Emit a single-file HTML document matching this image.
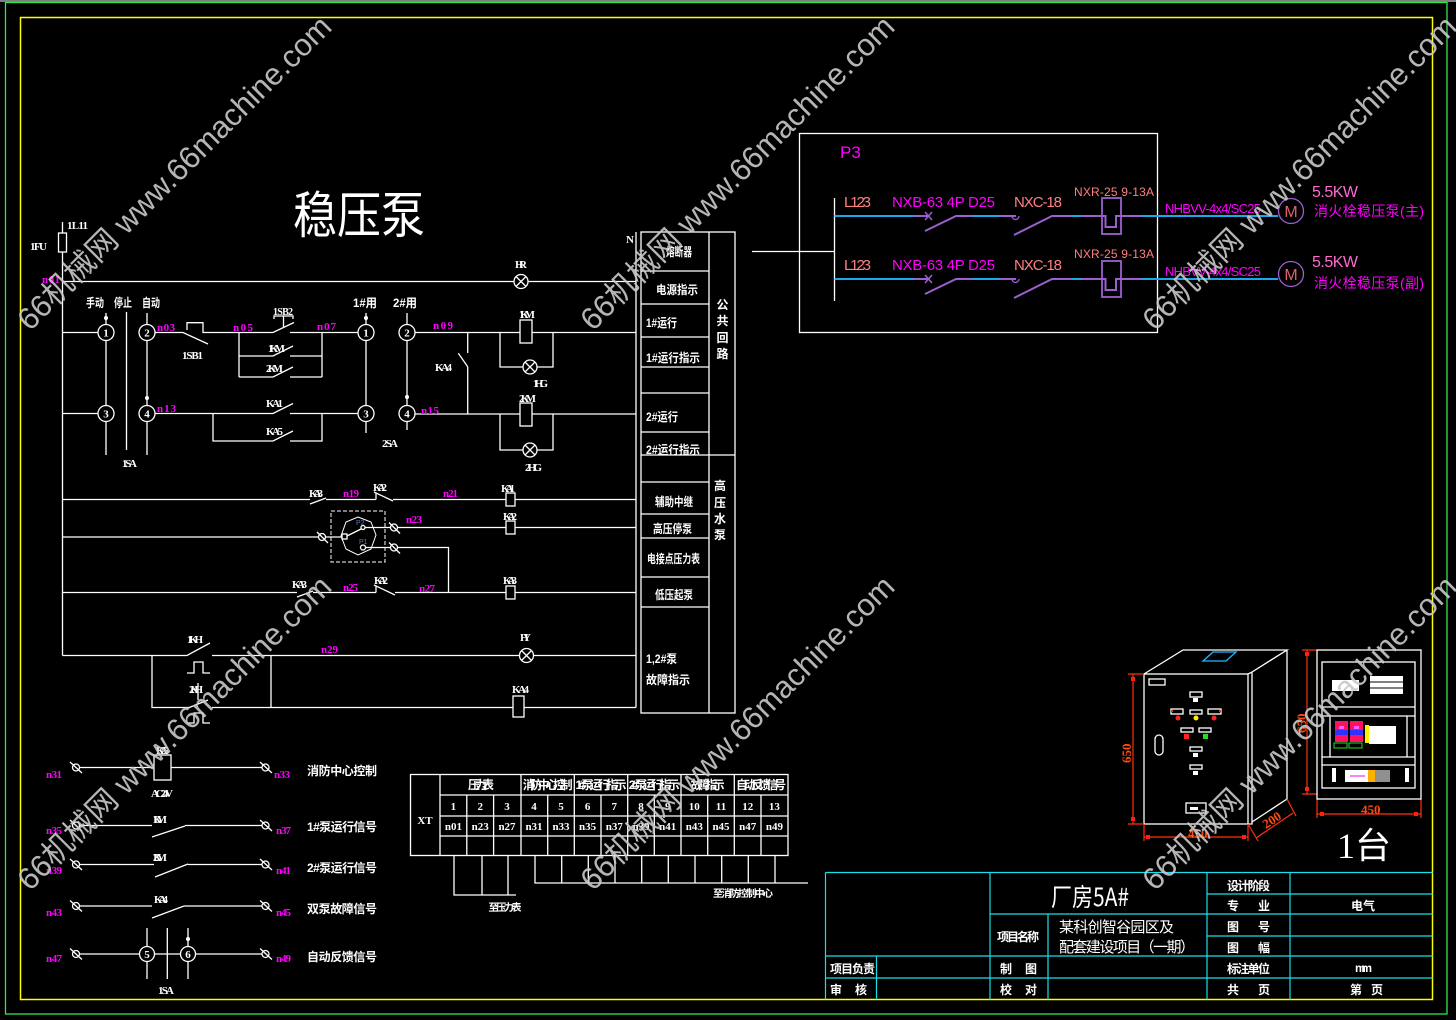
<!DOCTYPE html>
<html><head><meta charset="utf-8"><style>
html,body{margin:0;padding:0;background:#000;}
svg{display:block}
.l{stroke:#fff;stroke-width:1.3;fill:none}
.lf{stroke:#fff;stroke-width:1.3;fill:#000}
.t{fill:#fff;font-family:"Liberation Serif","Noto Sans CJK SC",serif;font-weight:bold;font-size:11px}
.c{fill:#fff;font-family:"Liberation Sans","Noto Sans CJK SC",sans-serif;font-weight:bold;font-size:12px}
.m{fill:#ff00ff;font-family:"Liberation Serif",serif;font-weight:bold;font-size:11px}
.p{font-family:"Liberation Sans","Noto Sans CJK SC",sans-serif;font-size:15px}
.d{fill:#ff4a10;font-family:"Liberation Serif",serif;font-weight:bold;font-size:13px}
.cy{stroke:#1aa8ea;stroke-width:2;fill:none}
.pu{stroke:#9b5fd0;stroke-width:2;fill:none}
.tb{stroke:#18e0e8;stroke-width:1.2;fill:none}
.r{stroke:#ff3010;stroke-width:1.2;fill:none}
</style></head><body>
<svg width="1456" height="1020" viewBox="0 0 1456 1020" xmlns="http://www.w3.org/2000/svg">
<rect width="1456" height="1020" fill="#000"/>
<rect x="0" y="0" width="1456" height="2" fill="#808080"/>
<rect x="5.5" y="2.5" width="1441.5" height="1011.5" fill="none" stroke="#2ee84c" stroke-width="1.3"/>
<rect x="20.5" y="17.5" width="1412" height="982" fill="none" stroke="#ffff00" stroke-width="1.5"/>

<!-- Title -->
<text x="293" y="233" font-size="50" textLength="132" lengthAdjust="spacingAndGlyphs" fill="#fff" font-family="'Noto Sans CJK SC',sans-serif">稳压泵</text>

<!-- left bus & fuse -->
<g class="l">
<path d="M62.5,222 V233 M62.5,252 V655.5"/>
<rect x="58.5" y="233" width="8" height="19"/>
<path d="M62.5,281.5 H514 M528,281.5 H636"/>
<path d="M636,232 V707.5"/>
<path d="M62.5,332.5 H98 M62.5,413.5 H98"/>
<path d="M106,313 V324.5 M106,340.5 V405.5 M106,421.5 V455"/>
<path d="M147,313 V324.5 M147,340.5 V405.5 M147,421.5 V455"/>
<path d="M126.5,312 V450"/>
<path d="M155,332.5 H183 L208,344"/>
<path d="M187,330 V322.7 H203 V332.5 H239"/>
<path d="M239,332.5 V377"/>
<path d="M239,332.5 H273 L294,322.5 M290,332.5 H358"/>
<path d="M274,319 V316 H293 V319 M283.5,316 V327"/>
<path d="M239,356 H273 L293,346 M290,356 H322"/>
<path d="M239,377 H273 L293,367 M290,377 H322"/>
<path d="M322,332.5 V377"/>
<path d="M155,413.5 H273 L293,403.5 M290,413.5 H358"/>
<path d="M213,413.5 V441 H273 L293,431 M290,441 H322 V413.5"/>
<path d="M366,313 V324.5 M366,340.5 V405.5 M366,421.5 V433"/>
<path d="M407,313 V324.5 M407,340.5 V405.5 M407,421.5 V430"/>
<path d="M415,332.5 H636"/>
<path d="M415,414 H636"/>
<path d="M467.7,332.5 V353 M458.3,353.3 L467.7,366.7 M467.7,366.7 V414"/>
<path d="M500,332.5 V367 H523 M537,367 H553 V332.5"/>
<path d="M500,414 V450 H523 M537,450 H553 V414"/>
</g>
<rect x="520" y="320" width="12" height="23" class="lf"/>
<rect x="520" y="403" width="12" height="23" class="lf"/>
<g class="lf">
<circle cx="106" cy="332.5" r="8"/><circle cx="147" cy="332.5" r="8"/>
<circle cx="106" cy="413.5" r="8"/><circle cx="147" cy="413.5" r="8"/>
<circle cx="366" cy="332.5" r="8"/><circle cx="407" cy="332.5" r="8"/>
<circle cx="366" cy="413.5" r="8"/><circle cx="407" cy="413.5" r="8"/>
</g>
<g fill="#fff"><circle cx="106" cy="318" r="2"/><circle cx="147" cy="398" r="2"/><circle cx="366" cy="318" r="2"/><circle cx="407" cy="397" r="2"/></g>
<g class="t" font-size="10" text-anchor="middle">
<text x="106" y="336.5">1</text><text x="147" y="336.5">2</text><text x="106" y="417.5">3</text><text x="147" y="417.5">4</text>
<text x="366" y="336.5">1</text><text x="407" y="336.5">2</text><text x="366" y="417.5">3</text><text x="407" y="417.5">4</text>
</g>
<g class="lf">
<circle cx="521" cy="281.5" r="7"/><circle cx="530" cy="367" r="7"/><circle cx="530" cy="450" r="7"/><circle cx="526.5" cy="655.5" r="7"/>
</g>
<g class="l">
<path d="M516,276.5 L526,286.5 M526,276.5 L516,286.5"/>
<path d="M525,362 L535,372 M535,362 L525,372"/>
<path d="M525,445 L535,455 M535,445 L525,455"/>
<path d="M521.5,650.5 L531.5,660.5 M531.5,650.5 L521.5,660.5"/>
</g>

<!-- middle rows -->
<g class="l">
<path d="M62.5,499.5 H310 M310,504 L326,498 M326,499.5 H376 M376,493 V499.5 M374,492 L393,501 M393,499.5 H636"/>
<path d="M364,527.5 H636"/>
<path d="M62.5,537 H342"/>
<path d="M345,537 L363,528 M363,547.5 H448.5 V592.5"/>
<path d="M62.5,592.5 H297 M297,597 L313,591 M313,592.5 H376 M376,586 V592.5 M374,585 L395,595 M395,592.5 H636"/>
<path d="M62.5,655.5 H187 L210,643 M212,655.5 H519 M534,655.5 H636"/>
<path d="M187,673 H194 V662 H203 V673 H210"/>
<path d="M152,655.5 V707.5 H190 M212,707.5 H636"/>
<path d="M198,683 V700 M188,708 L208,700"/>
<path d="M187,723 H194 V713 H203 V723 H210"/>
<path d="M271,655.5 V707.5"/>
</g>
<rect x="331" y="511" width="54" height="51" fill="none" stroke="#fff" stroke-width="1" stroke-dasharray="4,2"/>
<polygon points="358,517 371,522 376,535 371,549 358,555 346,549 341,536 346,522" fill="none" stroke="#fff" stroke-width="1"/>
<rect x="342" y="534" width="5" height="5" class="lf"/>
<circle cx="363" cy="547.5" r="2.5" class="lf"/>
<circle cx="363" cy="527.5" r="2" class="lf"/>
<text x="356" y="525" font-size="7" fill="#5a7ab0" font-family="Liberation Sans,sans-serif">P2</text>
<text x="359" y="544" font-size="7" fill="#5a7ab0" font-family="Liberation Sans,sans-serif">P1</text>
<g class="l">
<circle cx="322" cy="537" r="3.5" fill="#000"/><path d="M317,532 L328,543"/>
<circle cx="394" cy="527.5" r="3.5" fill="#000"/><path d="M389,522.5 L400,533.5"/>
<circle cx="394" cy="547.5" r="3.5" fill="#000"/><path d="M389,542.5 L400,553.5"/>
</g>
<rect x="506" y="493" width="9" height="13" class="lf"/>
<rect x="506" y="521" width="9" height="13" class="lf"/>
<rect x="506" y="586" width="9" height="13" class="lf"/>
<rect x="513" y="696" width="11" height="21" class="lf"/>

<!-- right table -->
<g class="l">
<rect x="641" y="232" width="94" height="481"/>
<path d="M709,232 V713"/>
<path d="M641,271 H709 M641,304 H709 M641,337 H709 M641,367 H709 M641,393 H709 M641,432 H709 M641,455 H735 M641,482 H709 M641,514 H709 M641,538 H709 M641,577 H709 M641,607 H709"/>
<path d="M752,251.5 H834.5"/>
</g>
<g class="c">
<text x="666" y="256" textLength="26" lengthAdjust="spacingAndGlyphs">熔断器</text>
<text x="656" y="294" textLength="42" lengthAdjust="spacingAndGlyphs">电源指示</text>
<text x="646" y="327" textLength="31" lengthAdjust="spacingAndGlyphs">1#运行</text>
<text x="646" y="362" textLength="54" lengthAdjust="spacingAndGlyphs">1#运行指示</text>
<text x="646" y="421" textLength="32" lengthAdjust="spacingAndGlyphs">2#运行</text>
<text x="646" y="454" textLength="54" lengthAdjust="spacingAndGlyphs">2#运行指示</text>
<text x="655" y="506" textLength="38" lengthAdjust="spacingAndGlyphs">辅助中继</text>
<text x="653" y="533" textLength="39" lengthAdjust="spacingAndGlyphs">高压停泵</text>
<text x="647" y="563" textLength="53" lengthAdjust="spacingAndGlyphs">电接点压力表</text>
<text x="655" y="599" textLength="38" lengthAdjust="spacingAndGlyphs">低压起泵</text>
<text x="646" y="663" textLength="31" lengthAdjust="spacingAndGlyphs">1,2#泵</text>
<text x="646" y="684" textLength="44" lengthAdjust="spacingAndGlyphs">故障指示</text>
</g>
<g class="c" font-size="13" text-anchor="middle">
<text x="722.5" y="309">公</text><text x="722.5" y="325">共</text><text x="722.5" y="342">回</text><text x="722.5" y="358">路</text>
<text x="720" y="490">高</text><text x="720" y="507">压</text><text x="720" y="523">水</text><text x="720" y="539">泵</text>
</g>

<g class="t" lengthAdjust="spacingAndGlyphs">
<text x="30" y="250" textLength="17">1FU</text>
<text x="67" y="229" textLength="21">1L11</text>
<text x="626" y="243">N</text>
<text x="515" y="268" textLength="12">HR</text>
<text x="273" y="315" textLength="20" font-size="10">1SB2</text>
<text x="182" y="359" textLength="21">1SB1</text>
<text x="268" y="352" textLength="17">1KM</text>
<text x="266" y="372" textLength="17">2KM</text>
<text x="266" y="407" textLength="17">KA1</text>
<text x="266" y="435" textLength="17">KA5</text>
<text x="122" y="467" textLength="15">1SA</text>
<text x="382" y="447" textLength="16">2SA</text>
<text x="435" y="371" textLength="17">KA4</text>
<text x="519" y="318" textLength="16">1KM</text>
<text x="533" y="387" textLength="15">1HG</text>
<text x="519" y="402" textLength="17">2KM</text>
<text x="525" y="471" textLength="17">2HG</text>
<text x="309" y="497" textLength="14">KA3</text>
<text x="373" y="491" textLength="14">KA2</text>
<text x="501" y="492" textLength="14">KA1</text>
<text x="503" y="520" textLength="14">KA2</text>
<text x="292" y="588" textLength="15">KA3</text>
<text x="374" y="584" textLength="14">KA2</text>
<text x="503" y="584" textLength="14">KA3</text>
<text x="187" y="643" textLength="16">1KH</text>
<text x="520" y="641" textLength="11">HY</text>
<text x="189" y="693" textLength="14">2KH</text>
<text x="512" y="693" textLength="17">KA4</text>
</g>
<g class="c">
<text x="86" y="307" textLength="18" lengthAdjust="spacingAndGlyphs">手动</text>
<text x="114" y="307" textLength="18" lengthAdjust="spacingAndGlyphs">停止</text>
<text x="142" y="307" textLength="18" lengthAdjust="spacingAndGlyphs">自动</text>
<text x="353" y="307" textLength="24" lengthAdjust="spacingAndGlyphs">1#用</text>
<text x="393" y="307" textLength="24" lengthAdjust="spacingAndGlyphs">2#用</text>
</g>
<g class="m" lengthAdjust="spacingAndGlyphs">
<text x="42" y="283" textLength="18">n01</text>
<text x="157" y="331" textLength="18">n03</text>
<text x="233" y="331" textLength="20">n05</text>
<text x="317" y="330" textLength="19">n07</text>
<text x="157" y="412" textLength="19">n13</text>
<text x="421" y="414" textLength="18">n15</text>
<text x="433" y="329" textLength="20">n09</text>
<text x="343" y="497" textLength="16">n19</text>
<text x="443" y="497" textLength="15">n21</text>
<text x="406" y="523" textLength="16">n23</text>
<text x="343" y="591" textLength="15">n25</text>
<text x="419" y="592" textLength="16">n27</text>
<text x="321" y="653" textLength="17">n29</text>
</g>

<!-- P3 -->
<rect x="799.5" y="133.5" width="358" height="199" fill="none" stroke="#fff" stroke-width="1.3"/>
<path d="M834.5,198 V301" class="l"/>
<text x="840" y="158" fill="#ff00ff" font-family="Liberation Sans,sans-serif" font-size="17">P3</text>
<g id="r1">
<path class="cy" d="M834.5,216 H914 M972.5,216 H1000 M1072,216 H1082 M1141,216 H1278"/>
<path class="pu" d="M914,216 H929 M925,231 L956,216 H972.5 M1000,216 H1016 M1014,235 L1052,216 H1072 M1082,216 H1105.5 V227 H1116 V216 H1141"/>
<path d="M925,212 L932,220 M932,212 L925,220" stroke="#9b5fd0" stroke-width="1.5"/>
<path d="M1012,216 A3.5,3.5 0 0 0 1019,216" stroke="#9b5fd0" stroke-width="1.3" fill="none"/>
<rect x="1102" y="198" width="19" height="36" fill="none" stroke="#9b5fd0" stroke-width="1.8"/>
<circle cx="1291" cy="211" r="12.5" fill="none" stroke="#9b5fd0" stroke-width="1.3"/>
<text x="1291" y="217" text-anchor="middle" fill="#e06070" font-family="Liberation Sans,sans-serif" font-size="16">M</text>
</g>
<use href="#r1" transform="translate(0,63)"/>
<g class="p" lengthAdjust="spacingAndGlyphs">
<text x="844" y="207" fill="#ff8080" textLength="27">L123</text>
<text x="892" y="207" fill="#ff00ff" textLength="103">NXB-63 4P D25</text>
<text x="1014" y="207" fill="#ff8080" textLength="48">NXC-18</text>
<text x="1074" y="196" fill="#ff8080" textLength="80" font-size="12">NXR-25 9-13A</text>
<text x="1165" y="213" fill="#ff00ff" textLength="96" font-size="13">NHBVV-4x4/SC25</text>
<text x="1312" y="197" fill="#ff6ad0" textLength="46" font-size="16">5.5KW</text>
<text x="1314" y="216" fill="#ff00ff" textLength="110" font-size="14">消火栓稳压泵(主)</text>
<text x="844" y="270" fill="#ff8080" textLength="27">L123</text>
<text x="892" y="270" fill="#ff00ff" textLength="103">NXB-63 4P D25</text>
<text x="1014" y="270" fill="#ff8080" textLength="48">NXC-18</text>
<text x="1074" y="258" fill="#ff8080" textLength="80" font-size="12">NXR-25 9-13A</text>
<text x="1165" y="276" fill="#ff00ff" textLength="96" font-size="13">NHBVV-4x4/SC25</text>
<text x="1312" y="267" fill="#ff6ad0" textLength="46" font-size="16">5.5KW</text>
<text x="1314" y="288" fill="#ff00ff" textLength="110" font-size="14">消火栓稳压泵(副)</text>
</g>

<!-- bottom-left signals -->
<g class="l">
<path d="M80,767.5 H154 M171,767.5 H262"/>
<path d="M80,825.5 H152 M152,837 L185,826 M185,825.5 H262"/>
<path d="M80,864.5 H154 M155,877 L188,864 M188,864.5 H262"/>
<path d="M80,906 H152 M152,918 L184,906 M184,906 H262"/>
<path d="M80,954 H139.5 M155,954 H180.5 M196,954 H262"/>
<path d="M147,928 V946.5 M147,961.5 V979 M167.3,928 V979 M188,928 V946.5 M188,961.5 V979"/>
</g>
<rect x="154" y="755" width="17" height="25" class="lf"/>
<g class="lf"><circle cx="147" cy="954" r="7.5"/><circle cx="188" cy="954" r="7.5"/></g>
<circle cx="188" cy="939" r="2" fill="#fff"/>
<g class="t" font-size="10" text-anchor="middle"><text x="147" y="958">5</text><text x="188" y="958">6</text></g>
<g class="l">
<circle cx="76" cy="767.5" r="3.5"/><path d="M70,762 L82,773"/>
<circle cx="76" cy="825.5" r="3.5"/><path d="M70,820 L82,831"/>
<circle cx="76" cy="864.5" r="3.5"/><path d="M70,859 L82,870"/>
<circle cx="76" cy="906" r="3.5"/><path d="M70,900.5 L82,911.5"/>
<circle cx="76" cy="954" r="3.5"/><path d="M70,948.5 L82,959.5"/>
<circle cx="265.5" cy="767.5" r="3.5"/><path d="M260,762 L272,773"/>
<circle cx="265.5" cy="825.5" r="3.5"/><path d="M260,820 L272,831"/>
<circle cx="265.5" cy="864.5" r="3.5"/><path d="M260,859 L272,870"/>
<circle cx="265.5" cy="906" r="3.5"/><path d="M260,900.5 L272,911.5"/>
<circle cx="265.5" cy="954" r="3.5"/><path d="M260,948.5 L272,959.5"/>
</g>
<g class="m" lengthAdjust="spacingAndGlyphs">
<text x="46" y="778" textLength="16">n31</text><text x="274" y="778" textLength="16">n33</text>
<text x="46" y="834" textLength="16">n35</text><text x="276" y="834" textLength="15">n37</text>
<text x="46" y="874" textLength="16">n39</text><text x="276" y="874" textLength="15">n41</text>
<text x="46" y="916" textLength="16">n43</text><text x="276" y="916" textLength="15">n45</text>
<text x="46" y="962" textLength="16">n47</text><text x="276" y="962" textLength="15">n49</text>
</g>
<g class="t" font-size="10" lengthAdjust="spacingAndGlyphs">
<text x="156" y="754" textLength="13">KA5</text>
<text x="151" y="797" textLength="22">AC24V</text>
<text x="153" y="823" textLength="14">1KM</text>
<text x="153" y="861" textLength="14">2KM</text>
<text x="154" y="903" textLength="14">KA4</text>
<text x="158" y="994" textLength="16">1SA</text>
</g>
<g class="c" font-size="14" lengthAdjust="spacingAndGlyphs">
<text x="307" y="775" textLength="70">消防中心控制</text>
<text x="307" y="831" textLength="70">1#泵运行信号</text>
<text x="307" y="872" textLength="70">2#泵运行信号</text>
<text x="307" y="913" textLength="70">双泵故障信号</text>
<text x="307" y="961" textLength="70">自动反馈信号</text>
</g>

<!-- XT table -->
<g class="l" stroke-width="1.1">
<rect x="410.5" y="774.5" width="377.5" height="81"/>
<path d="M440,774.5 V855.5 M440,795 H788 M440,816 H788 M440,836 H788"/>
<path d="M521,774.5 V855.5 M574.3,774.5 V855.5 M627.7,774.5 V855.5 M681,774.5 V855.5 M734.3,774.5 V855.5"/>
<path d="M466.8,795 V855.5 M493.6,795 V855.5 M547.7,795 V855.5 M601,795 V855.5 M654.3,795 V855.5 M707.7,795 V855.5 M761,795 V855.5"/>
<path d="M454,855.5 V895 H516 M482,855.5 V895 M508,855.5 V895"/>
<path d="M535,855.5 V883 H808 M561.7,855.5 V883 M588.3,855.5 V883 M615,855.5 V883 M641.7,855.5 V883 M668.3,855.5 V883 M695,855.5 V883 M721.7,855.5 V883 M748.3,855.5 V883 M775,855.5 V883"/>
</g>
<text x="425" y="824" text-anchor="middle" class="t" font-size="20">XT</text>
<g class="c" font-size="9" text-anchor="middle" lengthAdjust="spacingAndGlyphs">
<text x="481" y="789" textLength="26">压力表</text>
<text x="547.7" y="789" textLength="50">消防中心控制</text>
<text x="601" y="789" textLength="51">1#泵运行指示</text>
<text x="654.3" y="789" textLength="51">2#泵运行指示</text>
<text x="707.7" y="789" textLength="34">故障指示</text>
<text x="761" y="789" textLength="50">自动反馈信号</text>
<text x="505" y="911" textLength="33" font-size="10">至压力表</text>
<text x="743" y="897" textLength="60" font-size="10">至消防控制中心</text>
</g>
<g class="t" font-size="10" text-anchor="middle">
<text x="453.4" y="810">1</text><text x="480.2" y="810">2</text><text x="507" y="810">3</text><text x="534" y="810">4</text><text x="561" y="810">5</text><text x="587.6" y="810">6</text><text x="614.3" y="810">7</text><text x="641" y="810">8</text><text x="667.7" y="810">9</text><text x="694.3" y="810">10</text><text x="721" y="810">11</text><text x="747.7" y="810">12</text><text x="774.4" y="810">13</text>
<text x="453.4" y="830">n01</text><text x="480.2" y="830">n23</text><text x="507" y="830">n27</text><text x="534" y="830">n31</text><text x="561" y="830">n33</text><text x="587.6" y="830">n35</text><text x="614.3" y="830">n37</text><text x="641" y="830">n39</text><text x="667.7" y="830">n41</text><text x="694.3" y="830">n43</text><text x="721" y="830">n45</text><text x="747.7" y="830">n47</text><text x="774.4" y="830">n49</text>
</g>

<!-- Title block -->
<g class="tb">
<path d="M825.5,872.5 H1432.5 M825.5,872.5 V999.5"/>
<path d="M990,872.5 V999.5 M1207,872.5 V999.5 M1290,872.5 V999.5 M1048,914 V999.5 M876.5,956 V999.5"/>
<path d="M1207,894 H1432.5 M990,914 H1432.5 M1207,936 H1432.5 M825.5,956 H1432.5 M825.5,978 H1432.5"/>
</g>
<text x="1090" y="906" text-anchor="middle" fill="#fff" font-family="'Noto Sans CJK SC',sans-serif" font-size="25" textLength="78" lengthAdjust="spacingAndGlyphs">厂房5A#</text>
<g class="c" font-size="12" lengthAdjust="spacingAndGlyphs">
<text x="997" y="941" textLength="42">项目名称</text>
<text x="1059" y="932" textLength="115" font-size="15" font-weight="normal">某科创智谷园区及</text>
<text x="1059" y="952" textLength="136" font-size="15" font-weight="normal">配套建设项目（一期）</text>
<text x="1227" y="890" textLength="43">设计阶段</text>
<text x="1227" y="910" textLength="43">专　业</text>
<text x="1351" y="910" textLength="24">电　气</text>
<text x="1227" y="931" textLength="43">图　号</text>
<text x="1227" y="952" textLength="43">图　幅</text>
<text x="830" y="973" textLength="45">项目负责</text>
<text x="1000" y="973" textLength="37">制　图</text>
<text x="1227" y="973" textLength="43">标注单位</text>
<text x="1355" y="972" textLength="17">mm</text>
<text x="830" y="994" textLength="37">审　核</text>
<text x="1000" y="994" textLength="37">校　对</text>
<text x="1227" y="994" textLength="43">共　页</text>
<text x="1350" y="994" textLength="33">第　页</text>
</g>

<!-- Cabinet 3D -->
<g class="l" stroke-width="1.1">
<rect x="1144" y="674" width="104" height="150"/>
<path d="M1144,674 L1183,650 H1287 L1252,672 M1248,674 L1252,672 V824 H1248 M1287,650 V799 L1252,822"/>
<rect x="1149" y="679" width="16" height="6"/>
<rect x="1190" y="692" width="12" height="5"/>
<rect x="1171" y="709" width="12" height="5"/><rect x="1190" y="710" width="12" height="4"/><rect x="1208" y="709" width="13" height="5"/>
<rect x="1181" y="728" width="12" height="4"/><rect x="1199" y="728" width="12" height="4"/>
<rect x="1155" y="735" width="8" height="20" rx="4"/>
<rect x="1190" y="747" width="12" height="4"/><rect x="1190" y="765" width="12" height="4"/>
<rect x="1186" y="803" width="20" height="10"/>
</g>
<g fill="#fff"><rect x="1193" y="698" width="5" height="4"/><rect x="1193" y="753" width="5" height="4"/><rect x="1193" y="771" width="5" height="4"/><rect x="1190" y="807" width="8" height="3"/></g>
<g fill="#ff2020"><circle cx="1178" cy="718" r="2.5"/><circle cx="1214" cy="718" r="2.5"/><rect x="1184" y="734" width="5" height="5"/><rect x="1171" y="710" width="2" height="2"/><rect x="1219" y="710" width="2" height="2"/></g>
<circle cx="1196" cy="718" r="2.5" fill="#ffee00"/>
<rect x="1203" y="734" width="5" height="5" fill="#20e020"/>
<path d="M1203,661 L1213,652 H1236 L1226,661 Z" fill="none" stroke="#20b8ff" stroke-width="1.3"/>
<g class="r">
<path d="M1133,674 V824 M1128,674 H1144 M1128,824 H1144"/>
<path d="M1144,824 V841 M1248,824 V841 M1144,837 H1248"/>
<path d="M1256,838 L1293,813 M1248,824 L1258,841 M1287,799 L1296,816"/>
<path d="M1307,650 V794 M1302,650 H1317 M1302,794 H1317"/>
<path d="M1317,799 V818 M1421,799 V818 M1317,814 H1421"/>
</g>
<g fill="#ff2010"><rect x="1131" y="677" width="4" height="4"/><rect x="1131" y="817" width="4" height="4"/><rect x="1146" y="835" width="4" height="4"/><rect x="1242" y="835" width="4" height="4"/><rect x="1305" y="652" width="4" height="4"/><rect x="1305" y="787" width="4" height="4"/><rect x="1320" y="812" width="4" height="4"/><rect x="1414" y="812" width="4" height="4"/></g>
<text class="d" transform="translate(1131,763) rotate(-90)">650</text>
<text class="d" x="1188" y="838">450</text>
<text class="d" transform="translate(1266,829) rotate(-33)">200</text>
<text class="d" transform="translate(1306,733) rotate(-90)">650</text>
<text class="d" x="1361" y="814">450</text>
<g class="l" stroke-width="1.1">
<rect x="1317" y="650" width="104" height="149"/>
<rect x="1322" y="662" width="93" height="126"/>
<path d="M1322,707 H1415 M1322,716 H1415 M1322,757 H1415 M1322,765 H1415 M1330,716 V757 M1407,716 V757"/>
</g>
<rect x="1332" y="680" width="27" height="11" fill="#fff"/>
<rect x="1370" y="676" width="33" height="18" fill="#fff"/>
<path d="M1370,682 H1403 M1370,688 H1403" stroke="#000" stroke-width="1"/>
<rect x="1335" y="721" width="13" height="21" fill="#ff1060"/>
<rect x="1350" y="721" width="13" height="21" fill="#ff1060"/>
<rect x="1335" y="730" width="13" height="5" fill="#3030ff"/><rect x="1350" y="730" width="13" height="5" fill="#3030ff"/>
<rect x="1339" y="726" width="5" height="3" fill="#ff60ff"/><rect x="1354" y="726" width="5" height="3" fill="#ff60ff"/>
<rect x="1334" y="743" width="13" height="5" fill="none" stroke="#20e020"/><rect x="1349" y="743" width="13" height="5" fill="none" stroke="#20e020"/>
<rect x="1365" y="725" width="4" height="18" fill="#ffee00"/>
<rect x="1369" y="726" width="27" height="18" fill="#fff"/>
<rect x="1345" y="770" width="23" height="12" fill="#fff"/>
<rect x="1368" y="770" width="7" height="12" fill="#ffb000"/>
<rect x="1375" y="770" width="15" height="12" fill="#909090"/>
<path d="M1350,776 H1365" stroke="#ff00ff" stroke-width="1"/>
<rect x="1332" y="768" width="4" height="14" fill="#fff"/><rect x="1405" y="768" width="4" height="14" fill="#fff"/>
<text x="1337" y="858" fill="#fff" font-family="'Liberation Serif','Noto Sans CJK SC',serif" font-size="36">1台</text>

<!-- watermarks -->
<g fill="#c9c9c9" fill-opacity="0.9" font-family="'Liberation Sans','Noto Sans CJK SC',sans-serif" font-size="31">
<text transform="translate(30,332) rotate(-45)">66机械网 www.66machine.com</text>
<text transform="translate(593,332) rotate(-45)">66机械网 www.66machine.com</text>
<text transform="translate(1155,332) rotate(-45)">66机械网 www.66machine.com</text>
<text transform="translate(30,892) rotate(-45)">66机械网 www.66machine.com</text>
<text transform="translate(593,892) rotate(-45)">66机械网 www.66machine.com</text>
<text transform="translate(1155,892) rotate(-45)">66机械网 www.66machine.com</text>
</g>
</svg>
</body></html>
